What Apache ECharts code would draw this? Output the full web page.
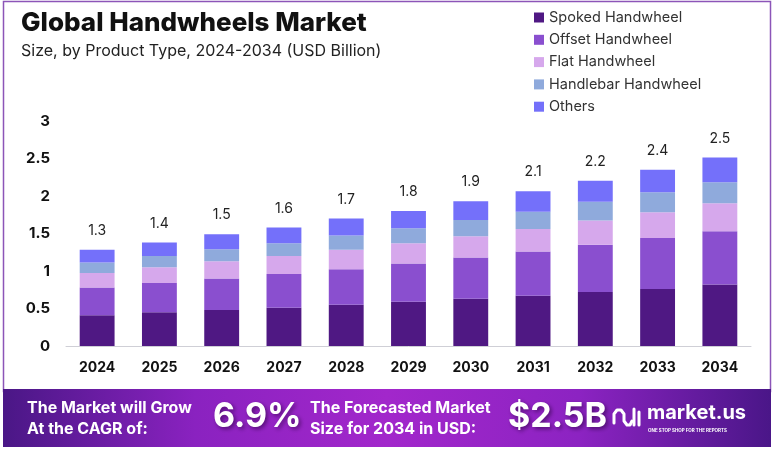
<!DOCTYPE html>
<html><head><meta charset="utf-8">
<script src="https://cdn.jsdelivr.net/npm/echarts@6/dist/echarts.min.js"></script>
<style>html,body{margin:0;padding:0;background:#fff}#c{width:776px;height:450px}</style>
</head><body><div id="c"></div>
<script>
const years = ['2024','2025','2026','2027','2028','2029','2030','2031','2032','2033','2034'];
const spoked    = [0.41,0.45,0.48,0.51,0.55,0.59,0.63,0.67,0.72,0.76,0.82];
const offset    = [0.37,0.39,0.42,0.45,0.475,0.51,0.55,0.59,0.63,0.68,0.71];
const flat      = [0.195,0.21,0.23,0.24,0.26,0.27,0.285,0.30,0.325,0.345,0.375];
const handlebar = [0.14,0.15,0.16,0.17,0.19,0.20,0.215,0.23,0.25,0.265,0.28];
const others    = [0.17,0.18,0.20,0.21,0.225,0.23,0.25,0.275,0.28,0.30,0.33];
const totals    = [1.3,1.4,1.5,1.6,1.7,1.8,1.9,2.1,2.2,2.4,2.5];
const seriesNames = ['Spoked Handwheel','Offset Handwheel','Flat Handwheel','Handlebar Handwheel','Others'];
const colors = ['#4f1883','#8a4fcf','#d6a8ec','#8faadc','#7470fa'];
const yTicks = { min: 0, max: 3, interval: 0.5 };

const FONT = 'Inter, "Noto Sans", sans-serif';
const chart = echarts.init(document.getElementById('c'), null, {renderer:'canvas'});
const dataSets = [spoked, offset, flat, handlebar, others];

const series = dataSets.map((d, i) => ({
  name: seriesNames[i],
  type: 'bar',
  stack: 'total',
  data: d,
  barWidth: '56%',
  itemStyle: { color: colors[i] },
  label: i === dataSets.length - 1 ? {
    show: true, position: 'top', distance: 12,
    formatter: p => String(totals[p.dataIndex]),
    fontFamily: FONT, fontSize: 14, color: '#222'
  } : { show: false }
}));

chart.setOption({
  backgroundColor: '#fff',
  animation: false,
  textStyle: { fontFamily: FONT },
  title: {
    text: 'Global Handwheels Market',
    subtext: 'Size, by Product Type, 2024-2034 (USD Billion)',
    left: 16, top: 5, itemGap: 7,
    textStyle: { fontFamily: FONT, fontSize: 26, fontWeight: 800, color: '#111' },
    subtextStyle: { fontFamily: FONT, fontSize: 16, color: '#222' }
  },
  legend: {
    orient: 'vertical', left: 529, top: 5, itemGap: 7.3,
    itemWidth: 10, itemHeight: 10, icon: 'rect',
    textStyle: { fontFamily: FONT, fontSize: 14.5, color: '#333' },
    data: seriesNames
  },
  grid: { left: 66, right: 25, top: 121, bottom: 104 },
  xAxis: {
    type: 'category', data: years,
    axisLine: { lineStyle: { color: '#cfcfd6' } },
    axisTick: { show: false },
    axisLabel: { fontFamily: FONT, fontSize: 14, fontWeight: 'bold', color: '#111', margin: 15 }
  },
  yAxis: {
    type: 'value', min: yTicks.min, max: yTicks.max, interval: yTicks.interval,
    splitLine: { show: false },
    axisLine: { show: false }, axisTick: { show: false },
    axisLabel: { fontFamily: FONT, fontSize: 15, fontWeight: 'bold', color: '#111', margin: 16 }
  },
  graphic: [
    { type: 'rect', silent: true, z: -1,
      shape: { x: 3.5, y: 1.5, width: 767, height: 390 },
      style: { fill: 'none', stroke: '#8c55b8', lineWidth: 1.5 } },
    { type: 'rect', silent: true, z: 10,
      shape: { x: 3, y: 389, width: 768, height: 58 },
      style: { fill: new echarts.graphic.LinearGradient(0,0,1,0,[
        {offset:0,color:'#4a1786'},{offset:0.25,color:'#8a22c0'},{offset:0.5,color:'#a227cb'},
        {offset:0.75,color:'#8c23c2'},{offset:1,color:'#4a1688'}]) } },
    { type: 'text', z: 11, left: 27, top: 398,
      style: { text: 'The Market will Grow\nAt the CAGR of:', fill: '#fff', font: 'bold 16px ' + FONT, lineHeight: 21 } },
    { type: 'text', z: 11, left: 213, top: 400,
      style: { text: '6.9%', fill: '#fff', font: 'bold 34px ' + FONT, textShadowColor: 'rgba(40,0,60,0.6)', textShadowBlur: 4, textShadowOffsetX: 2, textShadowOffsetY: 2 } },
    { type: 'text', z: 11, left: 310, top: 398,
      style: { text: 'The Forecasted Market\nSize for 2034 in USD:', fill: '#fff', font: 'bold 16px ' + FONT, lineHeight: 21 } },
    { type: 'text', z: 11, left: 508, top: 400,
      style: { text: '$2.5B', fill: '#fff', font: 'bold 34px ' + FONT, textShadowColor: 'rgba(40,0,60,0.6)', textShadowBlur: 4, textShadowOffsetX: 2, textShadowOffsetY: 2 } },
    { type: 'polyline', z: 11, shape: { points: [[614,423],[614,414],[617,410],[621,410],[624,414],[624,421],[627,425],[630,425],[632,421]] },
      style: { stroke: '#fff', lineWidth: 3, fill: 'none', lineCap: 'round', lineJoin: 'round' } },
    { type: 'line', z: 11, shape: { x1: 634, y1: 409, x2: 634, y2: 425 }, style: { stroke: '#fff', lineWidth: 3, lineCap: 'round' } },
    { type: 'line', z: 11, shape: { x1: 639, y1: 412, x2: 639, y2: 425 }, style: { stroke: '#fff', lineWidth: 3, lineCap: 'round' } },
    { type: 'text', z: 11, left: 647, top: 403,
      style: { text: 'market.us', fill: '#fff', font: 'bold 20px ' + FONT } },
    { type: 'text', z: 11, left: 648, top: 428,
      style: { text: 'ONE STOP SHOP FOR THE REPORTS', fill: '#fff', font: 'bold 4.5px ' + FONT } }
  ],
  series
});
</script></body></html>
